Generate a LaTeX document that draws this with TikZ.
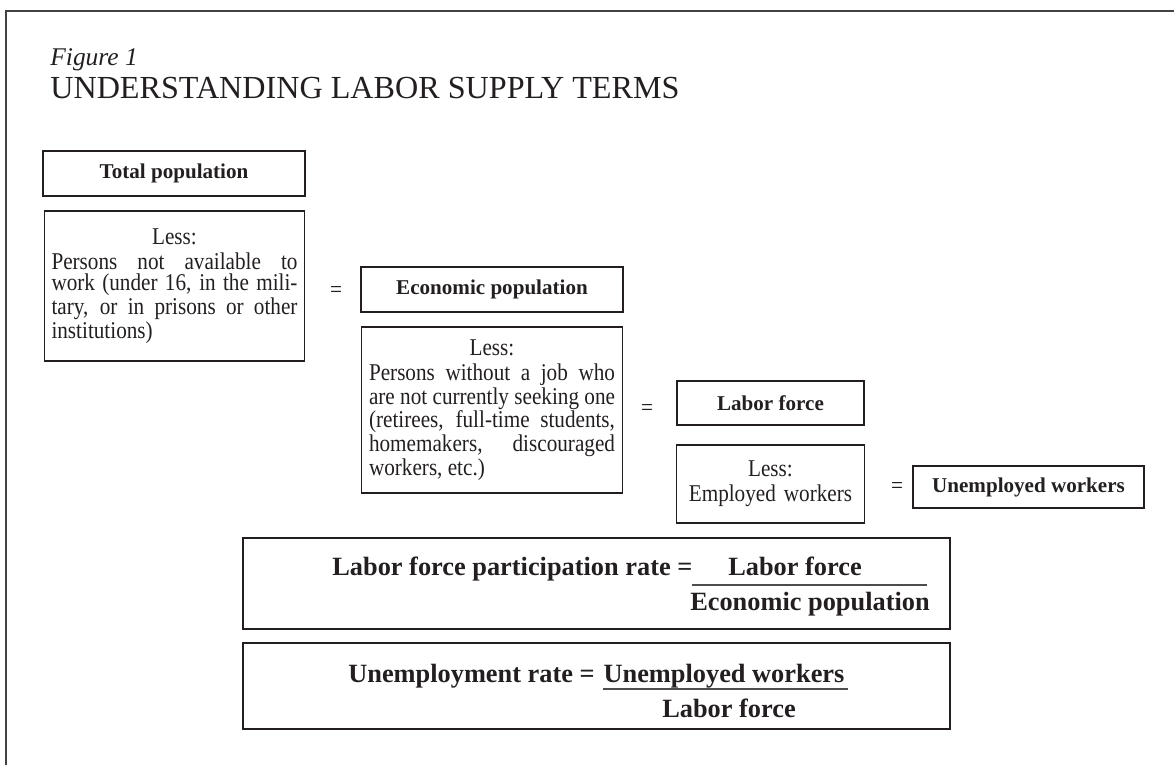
\documentclass[tikz,border=0pt]{standalone}
\usepackage{fontspec}
\setmainfont{Liberation Serif}
\newfontfamily\narrowserif[FakeStretch=0.88]{Liberation Serif}
\usepackage{xcolor}
\usepackage{tikz}
\definecolor{ink}{HTML}{231F20}
\tikzset{
  outline/.style={draw=ink!85, line width=1.1pt},
  term/.style={draw=ink, line width=1.3pt, text=ink, font=\fontsize{12}{14}\selectfont\bfseries, inner sep=0pt},
  less/.style={draw=ink, line width=0.6pt, text=ink, font=\narrowserif\fontsize{13.7}{12.2}\selectfont, align=justify, text width=140pt, inner xsep=4.25pt, inner ysep=0pt},
  eq/.style={text=ink, font=\narrowserif\fontsize{13.7}{14}\selectfont, inner sep=0pt},
  ratebox/.style={draw=ink, line width=1.5pt, minimum width=14.14cm, inner sep=0pt},
  ratetxt/.style={text=ink, font=\fontsize{15}{18}\selectfont\bfseries, inner sep=0pt},
  fracrule/.style={draw=ink!80, line width=0.6pt},
}
\newcommand\lesshead{{\centering Less:\par}\vspace{2pt}}

\begin{document}
\begin{tikzpicture}[x=0.02cm, y=-0.02cm]
  \useasboundingbox (0,0) rectangle (1174,765);
  \draw[outline] (6,765) -- (6,11) -- (1174,11);

  \node[anchor=base west, inner sep=0pt, text=ink, font=\fontsize{14.5}{16}\selectfont\itshape] (fig) at (50,65) {Figure 1};
  \node[anchor=base west, inner sep=0pt, text=ink, font=\fontsize{18.3}{21}\selectfont] (title) at (50,98) {UNDERSTANDING LABOR SUPPLY TERMS};

  % step 1
  \node[term, minimum width=5.24cm, minimum height=0.9cm] (totpop) at (174,173.5) {Total population};
  \node[less, minimum height=3cm] (less1) at (174.5,286) {\lesshead Persons not available to\linebreak work (under 16, in the mili-\linebreak tary, or in prisons or other\linebreak institutions)};
  \node[eq] (eq1) at (336,292) {=};

  % step 2
  \node[term, minimum width=5.24cm, minimum height=0.9cm] (econpop) at (492,289.5) {Economic population};
  \node[less, minimum height=3.32cm] (less2) at (492,410) {\lesshead Persons without a job who\linebreak are not currently seeking one\linebreak (retirees, full-time students,\linebreak homemakers, discouraged\linebreak workers, etc.)};
  \node[eq] (eq2) at (647,410) {=};

  % step 3
  \node[term, minimum width=3.74cm, minimum height=0.88cm] (labforce) at (770.5,403) {Labor force};
  \node[less, align=center, text width=96pt, inner xsep=5.6pt, minimum height=1.56cm] (less3) at (770.5,484) {Less:\\[2pt]Employed workers};
  \node[eq] (eq3) at (897,488) {=};
  \node[term, minimum width=4.62cm, minimum height=0.84cm] (unemp) at (1028.5,487) {Unemployed workers};

  % rates
  \node[ratebox, minimum height=1.82cm] (rate1) at (596.5,583.5) {};
  \node[ratetxt, anchor=base west] (lfpr) at (332,575) {Labor force participation rate =};
  \node[ratetxt, anchor=base] (lfpr-num) at (795,575) {Labor force};
  \node[ratetxt, anchor=base] (lfpr-den) at (810,610) {Economic population};
  \draw[fracrule] (692,585) -- (927,585);

  \node[ratebox, minimum height=1.72cm] (rate2) at (596.5,686) {};
  \node[ratetxt, anchor=base west] (ur) at (348,682) {Unemployment rate =};
  \node[ratetxt, anchor=base] (ur-num) at (724,682) {Unemployed workers};
  \node[ratetxt, anchor=base] (ur-den) at (729,717) {Labor force};
  \draw[fracrule] (603,689) -- (848,689);
\end{tikzpicture}
\end{document}
